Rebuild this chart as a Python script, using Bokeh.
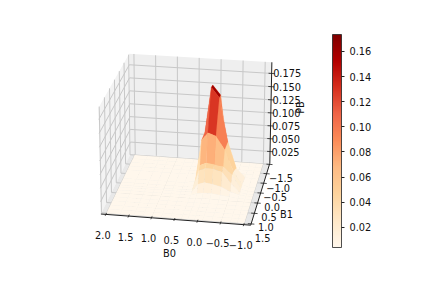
import numpy as np
from bokeh.plotting import figure
from bokeh.models import ColorBar, LinearColorMapper, FixedTicker, Range1d, ColumnDataSource, NumeralTickFormatter
from bokeh.core.properties import value
from bokeh.embed import file_html
from bokeh.resources import INLINE

B0 = [-1.0,-0.85,-0.7,-0.5,-0.3,-0.1,0.08,0.22,0.36,0.6,0.8,1.0,1.2,1.4,1.7,2.0]
B1 = [-1.5,-1.3,-1.1,-0.9,-0.7,-0.25,-0.05,0.1,0.2,0.35,0.5,0.7,0.9,1.1,1.3,1.5]
# density, one row per B1 value, columns follow B0
Z = [
 [.002,.002,.002,.002,.002,.002,.002,.002,.002,.002,.002,.002,.002,.002,.002,.002],
 [.002,.002,.002,.002,.002,.003,.003,.002,.002,.002,.002,.002,.002,.002,.002,.002],
 [.002,.002,.002,.002,.003,.006,.006,.003,.002,.002,.002,.002,.002,.002,.002,.002],
 [.002,.002,.002,.004,.020,.150,.168,.050,.004,.002,.002,.002,.002,.002,.002,.002],
 [.002,.002,.003,.020,.070,.152,.170,.085,.006,.002,.002,.002,.002,.002,.002,.002],
 [.002,.002,.006,.030,.070,.095,.100,.085,.006,.002,.002,.002,.002,.002,.002,.002],
 [.002,.002,.005,.030,.045,.048,.050,.045,.005,.002,.002,.002,.002,.002,.002,.002],
 [.002,.002,.004,.020,.040,.045,.045,.040,.004,.002,.002,.002,.002,.002,.002,.002],
 [.002,.002,.003,.008,.016,.020,.022,.018,.003,.002,.002,.002,.002,.002,.002,.002],
 [.002,.002,.002,.004,.006,.008,.008,.006,.002,.002,.002,.002,.002,.002,.002,.002],
 [.002,.002,.002,.002,.003,.003,.003,.003,.002,.002,.002,.002,.002,.002,.002,.002],
 [.002,.002,.002,.002,.002,.002,.002,.002,.002,.002,.002,.002,.002,.002,.002,.002],
 [.002,.002,.002,.002,.002,.002,.002,.002,.002,.002,.002,.002,.002,.002,.002,.002],
 [.002,.002,.002,.002,.002,.002,.002,.002,.002,.002,.002,.002,.002,.002,.002,.002],
 [.002,.002,.002,.002,.002,.002,.002,.002,.002,.002,.002,.002,.002,.002,.002,.002],
 [.002,.002,.002,.002,.002,.002,.002,.002,.002,.002,.002,.002,.002,.002,.002,.002],
]
B0_TICKS = [2.0,1.5,1.0,0.5,0.0,-0.5,-1.0]
B1_TICKS = [-1.5,-1.0,-0.5,0.0,0.5,1.0,1.5]
Z_TICKS = [0.025,0.05,0.075,0.1,0.125,0.15,0.175]
CB_TICKS = [0.02,0.04,0.06,0.08,0.1,0.12,0.14,0.16]
ANCHORS = ["#fff7ec","#fee8c8","#fdd49e","#fdbb84","#fc8d59","#ef6548","#d7301f","#b30000","#7f0000"]

XLIM = (-1.15, 2.11); YLIM = (-1.56, 1.56); ZLIM = (0.002, 0.196)
ELEV, AZIM, DIST, SCALE, ZASP, CX, CY = 23.34, 99.61, 11.83, 148.25, 0.761, 187.5, 136.2

def project(x, y, z):
    bx = (np.asarray(x, float)-XLIM[0])/(XLIM[1]-XLIM[0])-.5
    by = (np.asarray(y, float)-YLIM[0])/(YLIM[1]-YLIM[0])-.5
    bz = ((np.asarray(z, float)-ZLIM[0])/(ZLIM[1]-ZLIM[0])-.5)*ZASP
    el, az = np.radians(ELEV), np.radians(AZIM)
    d = bx*np.cos(el)*np.cos(az)+by*np.cos(el)*np.sin(az)+bz*np.sin(el)
    f = DIST/(DIST-d)
    sx = CX+SCALE*f*(-bx*np.sin(az)+by*np.cos(az))
    sy = CY-SCALE*f*(-bx*np.sin(el)*np.cos(az)-by*np.sin(el)*np.sin(az)+bz*np.cos(el))
    return sx, sy, d

W, H = 407, 266
p = figure(width=W, height=H, output_backend="svg", toolbar_location=None, min_border=0,
           x_range=Range1d(0, W), y_range=Range1d(H, 0), outline_line_color=None)
p.xaxis.visible = False; p.yaxis.visible = False; p.grid.visible = False

def poly(xs, ys, zs, fill):
    sx, sy, _ = project(xs, ys, zs)
    p.patch(list(sx), list(sy), fill_color=fill, line_color=fill, line_width=0)
def seg(a, b, color, lw):
    sx, sy, _ = project(*zip(a, b))
    p.line(list(sx), list(sy), line_color=color, line_width=lw)

x0, x1 = XLIM; y0, y1 = YLIM; z0, z1 = ZLIM
poly([x1,x1,x1,x1],[y0,y1,y1,y0],[z0,z0,z1,z1],"#f3f3f3")
poly([x0,x1,x1,x0],[y0,y0,y0,y0],[z0,z0,z1,z1],"#efefef")
poly([x0,x1,x1,x0],[y0,y0,y1,y1],[z0,z0,z0,z0],"#e8e8e8")
GC, GW = "#c8c8c8", 1.0
for t in B0_TICKS:
    seg((t,y1,z0),(t,y0,z0),GC,GW); seg((t,y0,z0),(t,y0,z1),GC,GW)
for t in B1_TICKS:
    seg((x0,t,z0),(x1,t,z0),GC,GW); seg((x1,t,z0),(x1,t,z1),GC,GW)
for t in Z_TICKS:
    seg((x0,y0,t),(x1,y0,t),GC,GW); seg((x1,y0,t),(x1,y1,t),GC,GW)

pos = np.linspace(0, 1, len(ANCHORS))
rgb = np.array([[int(c[i:i+2], 16) for i in (1,3,5)] for c in ANCHORS], float)
palette = ["#%02x%02x%02x" % tuple(int(round(np.interp(t, pos, rgb[:,k]))) for k in range(3))
           for t in np.linspace(0, 1, 256)]
LOW, HIGH = 0.004, 0.1735
zarr = np.array(Z)
facets = []
for j in range(len(B1)-1):
    for i in range(len(B0)-1):
        xs = [B0[i],B0[i+1],B0[i+1],B0[i]]
        ys = [B1[j],B1[j],B1[j+1],B1[j+1]]
        zs = [zarr[j,i],zarr[j,i+1],zarr[j+1,i+1],zarr[j+1,i]]
        sx, sy, d = project(xs, ys, zs)
        m = float(np.mean(zs))
        t = np.clip((m-LOW)/(HIGH-LOW), 0, 1)
        facets.append((float(np.mean(d)), list(sx), list(sy), palette[int(t*255)]))
facets.sort(key=lambda f: f[0])
src = ColumnDataSource(dict(xs=[f[1] for f in facets], ys=[f[2] for f in facets], c=[f[3] for f in facets]))
p.patches("xs", "ys", source=src, fill_color="c", line_color="c", line_width=0.15)

AX, FS = "#222222", "9.8px"
seg((x1,y1,z0),(x0,y1,z0),AX,1.0)
seg((x0,y1,z0),(x0,y0,z0),AX,1.0)
seg((x0,y0,z0),(x0,y0,z1),AX,1.0)
def label(sx, sy, txt, align="center", base="middle", angle=0.0):
    p.text([float(sx)], [float(sy)], text=[txt], text_font_size=FS, text_align=align, text_baseline=base,
           text_color="#111111", angle=angle, text_font=value("DejaVu Sans"))
def fmt(v, n=1):
    return ("\u2212" if v < 0 else "")+f"{abs(v):.{n}f}"
for t in B0_TICKS:
    seg((t,y1-0.07,z0),(t,y1+0.07,z0),AX,0.8)
    a = project(t,y1,z0)
    label(a[0]-3, a[1]+20.5, fmt(t))
for t in B1_TICKS:
    seg((x0+0.07,t,z0),(x0-0.07,t,z0),AX,0.8)
    a = project(x0,t,z0)
    label(a[0]+11.5, a[1]+14, fmt(t))
for t in Z_TICKS:
    seg((x0+0.07,y0,t),(x0-0.07,y0,t),AX,0.8)
    a = project(x0,y0,t)
    label(a[0]+1.5, a[1], fmt(t,3), align="left")
label(169, 253, "B0")
label(286, 214, "B1")
label(300, 107, "PB", angle=np.pi/2)

cb = ColorBar(color_mapper=LinearColorMapper(palette=palette, low=LOW, high=HIGH),
              ticker=FixedTicker(ticks=CB_TICKS), formatter=NumeralTickFormatter(format="0.00"),
              location=(332, H-247), width=9, height=213, padding=0, margin=0,
              major_tick_in=0, major_tick_out=3, major_tick_line_color="#222222",
              bar_line_color="#222222", bar_line_width=0.8, background_fill_alpha=0, border_line_color=None,
              major_label_text_font="DejaVu Sans", major_label_text_font_size=FS, major_label_text_color="#111111")
p.add_layout(cb, "center")

open("out.html", "w").write(file_html(p, INLINE))
